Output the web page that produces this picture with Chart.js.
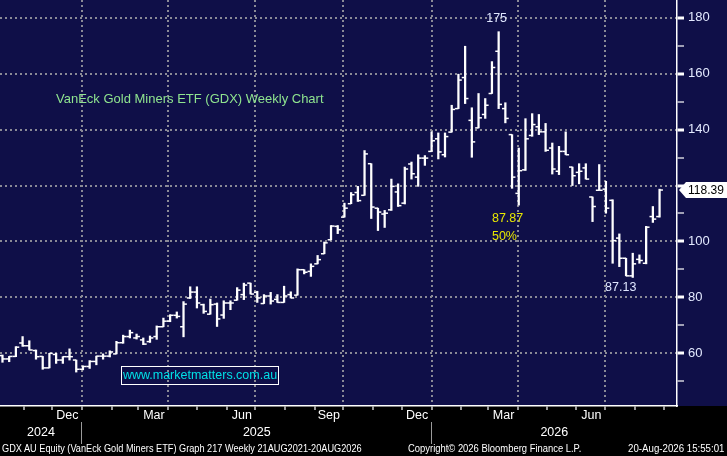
<!DOCTYPE html>
<html>
<head>
<meta charset="utf-8">
<title>GDX weekly</title>
<script src="https://cdn.jsdelivr.net/npm/chart.js@4.4.1/dist/chart.umd.min.js"></script>
<style>
  html, body { margin: 0; padding: 0; background: #000; }
  #wrap { position: relative; width: 727px; height: 456px; overflow: hidden; }
  #gdxChart { position: absolute; left: 0; top: 0; }
  .note { position: absolute; white-space: nowrap; }
  #title { left: 56px; top: 91px; font: 13px "Liberation Sans", Arial, sans-serif; color: #8fe48f; }
  #site { left: 121px; top: 366px; width: 156px; height: 17px; border: 1px solid #fff; font: 12.5px "Liberation Sans", Arial, sans-serif; color: #00e0e6; line-height: 17px; text-align: center; }
  .foot { top: 442px; font: 11px "Liberation Sans", Arial, sans-serif; color: #fff; transform-origin: left center; }
  .foot.right { transform-origin: right center; }
</style>
</head>
<body>
<div id="wrap">
  <canvas id="gdxChart" width="727" height="456"></canvas>
  <div class="note" id="title">VanEck Gold Miners ETF (GDX) Weekly Chart</div>
  <div class="note" id="site">www.marketmatters.com.au</div>
  <div class="note foot" data-w="360" style="left:2px">GDX AU Equity (VanEck Gold Miners ETF) Graph 217 Weekly 21AUG2021-20AUG2026</div>
  <div class="note foot" data-w="173" style="left:408px">Copyright© 2026 Bloomberg Finance L.P.</div>
  <div class="note foot right" data-w="96" style="right:3px">20-Aug-2026 15:55:01</div>
</div>
<script>
// weekly bars, oldest first
const opens = [59.2, 58.0, 58.9, 63.7, 62.7, 61.0, 58.9, 54.8, 59.6, 57.6,
  58.8, 57.6, 54.3, 55.3, 57.1, 59.0, 59.0, 59.8, 63.8, 66.0,
  65.5, 64.8, 64.2, 66.0, 69.5, 71.5, 73.6, 69.5, 79.8, 81.9,
  77.4, 74.0, 77.6, 73.7, 78.0, 79.0, 81.0, 85.1, 81.8, 77.8,
  80.5, 79.3, 78.2, 81.0, 80.8, 89.9, 89.3, 92.0, 95.6, 100.6,
  105.4, 108.7, 113.5, 117.5, 116.5, 127.8, 111.9, 109.8, 111.3, 117.7,
  113.7, 127.7, 123.0, 129.8, 132.2, 136.7, 131.0, 139.1, 147.5, 158.6,
  143.3, 140.6, 145.4, 152.9, 168.0, 147.5, 138.2, 117.2, 125.6, 137.9,
  141.0, 139.2, 133.4, 125.1, 132.2, 126.6, 124.7, 126.3, 115.9, 118.3,
  118.7, 114.7, 101.2, 94.0, 87.7, 93.6, 92.2, 108.9, 108.9];
const highs = [59.4, 58.9, 62.4, 66.0, 64.5, 61.2, 58.9, 60.0, 60.0, 58.8,
  61.6, 57.6, 55.5, 57.4, 59.0, 59.8, 60.9, 64.3, 66.5, 68.3,
  66.9, 65.5, 66.2, 69.8, 72.6, 73.8, 74.8, 78.5, 83.8, 83.8,
  77.6, 79.4, 78.0, 78.8, 78.8, 83.5, 85.1, 85.1, 82.2, 81.0,
  81.8, 81.0, 84.0, 82.0, 90.2, 89.9, 92.0, 95.0, 99.8, 105.7,
  105.7, 113.7, 117.5, 119.7, 132.5, 127.8, 111.9, 111.1, 122.3, 120.6,
  126.6, 128.4, 131.0, 130.7, 139.2, 138.8, 138.8, 148.7, 159.8, 169.8,
  147.8, 152.9, 151.1, 164.3, 175.0, 149.6, 138.2, 133.4, 143.9, 145.7,
  145.4, 142.2, 135.2, 134.0, 139.2, 126.6, 127.8, 127.8, 115.9, 127.5,
  121.5, 114.9, 102.7, 94.0, 95.8, 95.2, 105.4, 112.5, 118.7];
const lows = [56.8, 57.0, 58.8, 62.5, 61.2, 57.9, 54.3, 54.8, 56.4, 56.4,
  57.6, 53.3, 54.1, 54.6, 55.9, 57.9, 58.7, 59.8, 63.6, 65.5,
  65.1, 63.1, 63.9, 65.0, 69.5, 71.3, 72.6, 65.9, 79.6, 76.2,
  74.3, 74.0, 69.6, 72.5, 75.6, 79.0, 79.2, 81.2, 78.2, 77.8,
  77.6, 78.2, 78.2, 79.8, 80.8, 88.4, 87.5, 92.0, 95.6, 100.6,
  102.8, 108.7, 113.5, 114.3, 116.5, 108.2, 103.9, 105.0, 111.1, 112.5,
  113.4, 122.3, 119.7, 127.2, 132.2, 129.5, 130.2, 139.1, 147.5, 149.3,
  130.1, 140.6, 144.0, 152.9, 147.5, 142.4, 119.0, 113.0, 125.4, 137.6,
  138.2, 132.2, 124.1, 123.9, 131.0, 120.0, 120.6, 122.3, 107.1, 118.3,
  110.1, 92.2, 91.0, 87.7, 87.13, 92.2, 92.0, 106.8, 108.7];
const closes = [58.0, 58.9, 62.2, 62.7, 61.2, 58.8, 54.8, 60.0, 57.6, 58.8,
  58.8, 54.3, 55.3, 57.1, 59.0, 59.0, 60.5, 63.8, 66.0, 67.4,
  66.0, 63.3, 65.5, 69.5, 71.5, 73.6, 73.2, 77.6, 81.9, 78.0,
  75.0, 77.4, 72.3, 78.0, 78.0, 82.6, 84.4, 81.2, 79.8, 80.5,
  78.7, 78.2, 80.5, 79.8, 89.9, 89.0, 91.1, 93.5, 99.5, 105.5,
  104.2, 111.9, 116.7, 114.6, 131.3, 112.3, 110.5, 110.1, 119.7, 112.8,
  125.9, 124.2, 129.8, 129.8, 136.0, 132.0, 137.5, 147.2, 157.7, 151.1,
  135.6, 144.2, 148.7, 162.2, 149.0, 144.0, 123.0, 125.3, 136.7, 141.8,
  139.2, 132.6, 125.9, 132.2, 131.0, 123.5, 125.1, 122.3, 112.5, 118.3,
  111.9, 100.3, 94.0, 87.7, 92.0, 93.2, 105.1, 108.0, 118.39];

const yTicks = [50, 60, 70, 80, 90, 100, 110, 120, 130, 140, 150, 160, 170, 180];
const monthNames = ['Jan', 'Feb', 'Mar', 'Apr', 'May', 'Jun', 'Jul', 'Aug', 'Sep', 'Oct', 'Nov', 'Dec'];
const quarterEnds = ['Mar', 'Jun', 'Sep', 'Dec'];
const fibNote = ['87.87', '50%'];

// bar 0 sits on 10 Oct 2024, one bar per week
const firstBar = Date.UTC(2024, 9, 10);
const WEEK = 7 * 864e5;
const weekOf = d => (d - firstBar) / WEEK;
const xMin = -0.37, xMax = 100.6;

// month boundaries, labelled with the quarter month that just ended
const monthTicks = [];
for (let k = 0; k <= 22; k++) {
  const d = Date.UTC(2024, 10 + k, 1);
  const prev = monthNames[(10 + k - 1) % 12];
  monthTicks.push({ value: weekOf(d), label: quarterEnds.includes(prev) ? prev + ' ' : '' });
}
const y2025 = weekOf(Date.UTC(2025, 0, 1)), y2026 = weekOf(Date.UTC(2026, 0, 1));
const yearTicks = [
  { value: (xMin + y2025) / 2, label: '2024' },
  { value: y2025, label: '' },
  { value: (y2025 + y2026) / 2, label: '2025' },
  { value: y2026, label: '' },
  { value: (y2026 + xMax) / 2, label: '2026' }
];

const lastClose = closes[closes.length - 1];
const BG = '#0f0f48';
const GRID = '#8a8a96';
const NONE = 'rgba(0,0,0,0)';
const SANS = '"Liberation Sans", Arial, sans-serif';
const axisFont = { family: SANS, size: 12.5, lineHeight: 1 };

// no extra room for labels hanging over the plot edges
const noPad = s => { s.paddingLeft = s.paddingRight = s.paddingTop = s.paddingBottom = 0; };

const backdrop = {
  id: 'backdrop',
  beforeDraw(chart) {
    const { ctx, chartArea } = chart;
    ctx.save();
    ctx.fillStyle = BG;
    ctx.fillRect(0, 0, chart.width, chartArea.bottom);
    ctx.restore();
  }
};

const notes = {
  id: 'notes',
  afterDraw(chart) {
    const { ctx, chartArea } = chart;
    const x = chart.scales.x, y = chart.scales.y;
    ctx.save();
    ctx.font = '12.5px ' + SANS;
    ctx.textBaseline = 'middle';

    // peak and recent trough
    const top = Math.max(...highs), topAt = highs.indexOf(top);
    ctx.fillStyle = '#dfe6ff';
    ctx.textAlign = 'center';
    ctx.fillText(top.toFixed(0), x.getPixelForValue(topAt) - 2, y.getPixelForValue(top) - 13);
    const recent = lows.slice(-20), low = Math.min(...recent);
    const lowAt = lows.length - 20 + recent.indexOf(low);
    ctx.fillText(low.toFixed(2), x.getPixelForValue(lowAt) - 12, y.getPixelForValue(low) + 10);

    // retracement note under the March low
    ctx.fillStyle = '#e8e800';
    ctx.textAlign = 'left';
    const nx = x.getPixelForValue(73), ny = y.getPixelForValue(lows[77]);
    ctx.fillText(fibNote[0], nx, ny + 13);
    ctx.fillText(fibNote[1], nx, ny + 31);

    // last price tag
    ctx.font = '12px ' + SANS;
    const py = y.getPixelForValue(lastClose), px = chartArea.right + 2;
    ctx.fillStyle = '#fff';
    ctx.beginPath();
    ctx.moveTo(px, py);
    ctx.lineTo(px + 7, py - 8);
    ctx.lineTo(chart.width, py - 8);
    ctx.lineTo(chart.width, py + 8);
    ctx.lineTo(px + 7, py + 8);
    ctx.closePath();
    ctx.fill();
    ctx.fillStyle = '#000';
    ctx.fillText(lastClose.toFixed(2), px + 9, py + 0.5);
    ctx.restore();
  }
};

const weeks = opens.map((_, i) => i);

new Chart(document.getElementById('gdxChart'), {
  type: 'bar',
  data: {
    datasets: [
      {
        label: 'High-Low',
        data: weeks.map(i => ({ x: i, y: [lows[i], highs[i]] })),
        backgroundColor: '#fff',
        barThickness: 1.6
      },
      {
        type: 'scatter',
        label: 'Open',
        data: weeks.map(i => ({ x: i - 0.25, y: opens[i] })),
        pointStyle: 'line',
        pointRadius: 1.7,
        pointBorderWidth: 1.5,
        pointBorderColor: '#fff'
      },
      {
        type: 'scatter',
        label: 'Close',
        data: weeks.map(i => ({ x: i + 0.25, y: closes[i] })),
        pointStyle: 'line',
        pointRadius: 1.7,
        pointBorderWidth: 1.5,
        pointBorderColor: '#fff'
      }
    ]
  },
  options: {
    responsive: false,
    animation: false,
    events: [],
    layout: { autoPadding: false, padding: { left: 0, top: 0, right: 0, bottom: 16 } },
    plugins: { legend: { display: false }, tooltip: { enabled: false } },
    scales: {
      x: {
        type: 'linear',
        position: 'bottom',
        weight: 0,
        min: xMin,
        max: xMax,
        offset: false,
        afterBuildTicks: s => { s.ticks = monthTicks.map(t => ({ value: t.value })); },
        afterFit: s => { s.height = 16; noPad(s); },
        ticks: {
          autoSkip: false, maxRotation: 0, align: 'end', padding: -1,
          color: '#fff', font: axisFont,
          callback: (v, i) => monthTicks[i].label
        },
        grid: {
          offset: false,
          color: c => (monthTicks[c.index] && monthTicks[c.index].label) ? GRID : NONE,
          lineWidth: 2,
          tickLength: 4,
          tickColor: '#fff',
          tickWidth: 1.2
        },
        border: { color: '#fff', width: 1.5, dash: [2, 3] }
      },
      x2: {
        type: 'linear',
        position: 'bottom',
        weight: 1,
        min: xMin,
        max: xMax,
        offset: false,
        afterBuildTicks: s => { s.ticks = yearTicks.map(t => ({ value: t.value })); },
        afterFit: s => { s.height = 18; noPad(s); },
        ticks: {
          autoSkip: false, maxRotation: 0, padding: -18,
          color: '#fff', font: axisFont,
          callback: (v, i) => yearTicks[i].label
        },
        grid: {
          offset: false,
          drawOnChartArea: false,
          tickLength: 22,
          tickColor: c => (yearTicks[c.index] && !yearTicks[c.index].label) ? '#9a9a9a' : NONE,
          tickWidth: 1
        },
        border: { display: false }
      },
      y: {
        type: 'linear',
        position: 'right',
        min: 41.17,
        max: 186.33,
        afterBuildTicks: s => { s.ticks = yTicks.map(v => ({ value: v })); },
        afterFit: s => { s.width = 50; noPad(s); },
        ticks: {
          padding: 4,
          color: '#e4eaff',
          font: { family: SANS, size: 13, lineHeight: 1 },
          callback: v => (v % 20 === 0 && Math.abs(v - lastClose) > 5) ? String(v) : ''
        },
        grid: {
          color: c => (c.tick && c.tick.value % 20 === 0) ? GRID : NONE,
          lineWidth: 2,
          tickLength: 7,
          tickColor: '#fff',
          tickWidth: c => (c.tick && c.tick.value % 20 === 0) ? 3 : 1.2
        },
        border: { color: '#fff', width: 1.5, dash: [2, 3] }
      }
    }
  },
  plugins: [backdrop, notes]
});

// squeeze the footer lines to the narrow Bloomberg width
document.querySelectorAll('.foot').forEach(el => {
  el.style.transform = 'scaleX(' + (el.dataset.w / el.offsetWidth) + ')';
});
</script>
</body>
</html>
